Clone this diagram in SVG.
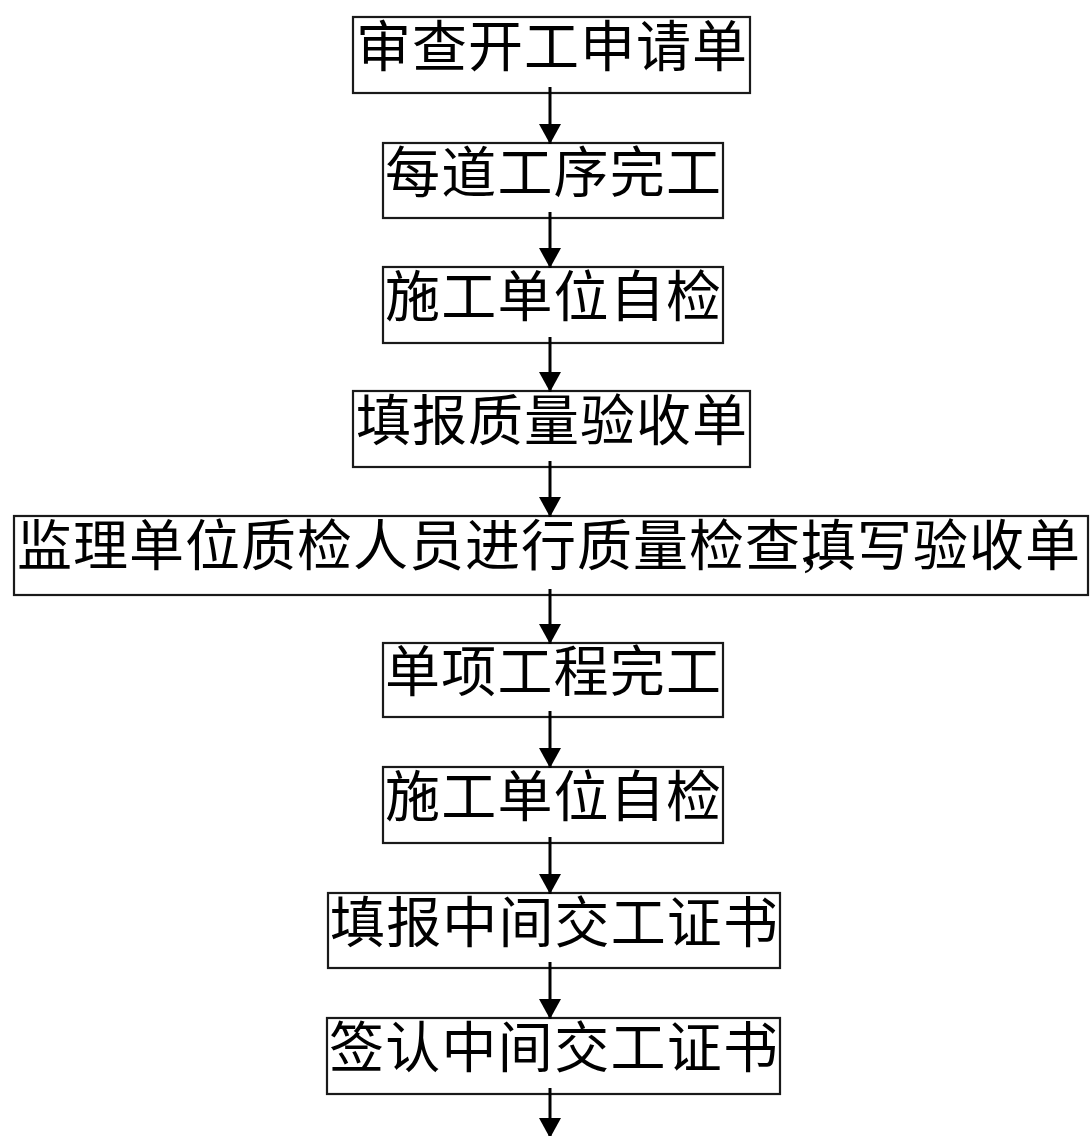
<svg xmlns="http://www.w3.org/2000/svg" width="1092" height="1136" viewBox="0 0 1092 1136">
<style>
.box{fill:#fff;stroke:#1a1a1a;stroke-width:2.2}
.lbl{font-family:"Liberation Serif","Noto Sans CJK SC",serif;font-size:55px;fill:#000}
.arr{stroke:#000;stroke-width:3;fill:none;marker-end:url(#ah)}
</style>
<defs>
<marker id="ah" markerUnits="userSpaceOnUse" markerWidth="22" markerHeight="22" refX="20" refY="11" orient="auto">
<path d="M0,0 L20,11 L0,22 z" fill="#000"/>
</marker>
</defs>
<rect width="1092" height="1136" fill="#fff"/>
<g id="n1"><rect class="box" x="353" y="17" width="397" height="76"/><text class="lbl" x="356" y="66" textLength="391" lengthAdjust="spacing">审查开工申请单</text></g>
<g id="n2"><rect class="box" x="383" y="143" width="340" height="75"/><text class="lbl" x="385" y="192" textLength="336" lengthAdjust="spacing">每道工序完工</text></g>
<g id="n3"><rect class="box" x="383" y="267" width="340" height="76"/><text class="lbl" x="385" y="316" textLength="336" lengthAdjust="spacing">施工单位自检</text></g>
<g id="n4"><rect class="box" x="353" y="391" width="397" height="76"/><text class="lbl" x="356" y="440" textLength="391" lengthAdjust="spacing">填报质量验收单</text></g>
<g id="n5"><rect class="box" x="14" y="516" width="1074" height="79"/><text class="lbl" x="17 73 129 185 241 297 353 409 465 521 577 633 689 745 803 801 857 913 969 1025" y="565">监理单位质检人员进行质量检查,填写验收单</text></g>
<g id="n6"><rect class="box" x="383" y="643" width="340" height="74"/><text class="lbl" x="385" y="691" textLength="336" lengthAdjust="spacing">单项工程完工</text></g>
<g id="n7"><rect class="box" x="383" y="767" width="340" height="76"/><text class="lbl" x="385" y="816" textLength="336" lengthAdjust="spacing">施工单位自检</text></g>
<g id="n8"><rect class="box" x="328" y="893" width="452" height="75"/><text class="lbl" x="330" y="942" textLength="448" lengthAdjust="spacing">填报中间交工证书</text></g>
<g id="n9"><rect class="box" x="327" y="1018" width="453" height="76"/><text class="lbl" x="329" y="1067" textLength="449" lengthAdjust="spacing">签认中间交工证书</text></g>
<g id="connectors">
<line class="arr" x1="550" y1="87" x2="550" y2="144"/>
<line class="arr" x1="550" y1="212" x2="550" y2="268"/>
<line class="arr" x1="550" y1="337" x2="550" y2="392"/>
<line class="arr" x1="550" y1="461" x2="550" y2="517"/>
<line class="arr" x1="550" y1="589" x2="550" y2="644"/>
<line class="arr" x1="550" y1="711" x2="550" y2="768"/>
<line class="arr" x1="550" y1="837" x2="550" y2="894"/>
<line class="arr" x1="550" y1="962" x2="550" y2="1019"/>
<line class="arr" x1="550" y1="1088" x2="550" y2="1138"/>
</g>
</svg>
